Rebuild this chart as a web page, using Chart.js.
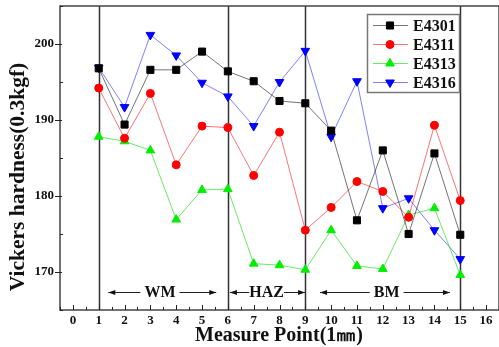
<!DOCTYPE html>
<html><head><meta charset="utf-8">
<script src="https://cdn.jsdelivr.net/npm/chart.js@4/dist/chart.umd.min.js"></script>
<style>html,body{margin:0;padding:0;background:#fff}canvas{display:block}</style>
</head><body>
<canvas id="c" width="499" height="347"></canvas>
<script>
const categories = [1,2,3,4,5,6,7,8,9,10,11,12,13,14,15];
const e4301 = [196.8,189.4,196.6,196.6,199.0,196.4,195.1,192.5,192.2,188.6,176.8,186.0,175.0,185.6,174.9];
const e4311 = [194.2,187.6,193.5,184.1,189.2,189.0,182.7,188.4,175.5,178.5,181.9,180.6,177.2,189.3,179.4];
const e4313 = [187.8,187.2,186.0,176.9,180.8,180.9,171.1,170.9,170.3,175.5,170.8,170.4,177.5,178.4,169.6];
const e4316 = [196.9,191.7,201.2,198.5,194.9,193.1,189.2,195.0,199.1,187.8,195.1,178.4,179.7,175.5,171.7];
const seriesNames = ['E4301','E4311','E4313','E4316'];
const xTickLabels = [0,1,2,3,4,5,6,7,8,9,10,11,12,13,14,15,16];
const yTickLabels = [170,180,190,200];
const zoneBoundaries = [1,6,9,15];
const zoneNames = ['WM','HAZ','BM'];
const zoneLabelX = [3.37,7.5,12.15];
const zoneArrowFrom = [1.37,6.08,9.57];
const zoneArrowTo = [5.55,8.99,14.6];
const zoneLabelY = 167.4;

const SERIF = '"Liberation Serif","DejaVu Serif",serif';
const mk = (vals) => categories.map((c,i)=>({x:c,y:vals[i]}));
const styles = [
  {line:'rgba(0,0,0,0.55)', pt:'#000000', shape:'rect', r:5, rot:0},
  {line:'rgba(255,0,0,0.55)', pt:'#ff0000', shape:'circle', r:4, rot:0},
  {line:'rgba(0,220,0,0.6)', pt:'#00ee00', shape:'triangle', r:5, rot:0},
  {line:'rgba(0,0,255,0.5)', pt:'#0000ff', shape:'triangle', r:5, rot:180},
];
const allVals = [e4301,e4311,e4313,e4316];
const datasets = allVals.map((v,i)=>({
  label: seriesNames[i], data: mk(v),
  borderColor: styles[i].line, borderWidth: 1,
  pointBackgroundColor: styles[i].pt, pointBorderColor: styles[i].pt,
  pointStyle: styles[i].shape, pointRadius: styles[i].r, pointRotation: styles[i].rot,
  pointBorderWidth: 1, tension: 0
}));

const deco = {
  id:'deco',
  beforeDatasetsDraw(chart){
    const {ctx, chartArea:a, scales:{x,y}} = chart;
    ctx.save();
    ctx.strokeStyle = '#333'; ctx.lineWidth = 1.5;
    zoneBoundaries.forEach(v=>{
      const px = Math.round(x.getPixelForValue(v))+0.5;
      ctx.beginPath(); ctx.moveTo(px,a.top); ctx.lineTo(px,a.bottom); ctx.stroke();
    });
    ctx.restore();
  },
  afterDatasetsDraw(chart){
    const {ctx, chartArea:a, scales:{x,y}} = chart;
    ctx.save();
    ctx.strokeStyle = '#444'; ctx.lineWidth = 1.5;
    ctx.strokeRect(a.left, a.top, a.right-a.left, a.bottom-a.top);
    ctx.strokeStyle = '#222'; ctx.lineWidth = 1;
    for (let v=-0.5; v<=16.5; v+=0.5){
      const px = Math.round(x.getPixelForValue(v))+0.5;
      const len = Number.isInteger(v) ? 5 : 3;
      ctx.beginPath(); ctx.moveTo(px,a.bottom); ctx.lineTo(px,a.bottom-len); ctx.stroke();
    }
    for (let v=165; v<=205; v+=5){
      const py = Math.round(y.getPixelForValue(v))+0.5;
      ctx.beginPath();
      if (v%10===0){ ctx.moveTo(a.left-5,py); ctx.lineTo(a.left+2,py); }
      else { ctx.moveTo(a.left,py); ctx.lineTo(a.left+3,py); }
      ctx.stroke();
    }
    ctx.font = 'bold 16px '+SERIF;
    ctx.fillStyle = '#111'; ctx.strokeStyle = '#222'; ctx.lineWidth = 1;
    ctx.textAlign = 'center'; ctx.textBaseline = 'middle';
    const ay = y.getPixelForValue(zoneLabelY);
    zoneNames.forEach((n,i)=>{
      const cx = x.getPixelForValue(zoneLabelX[i]);
      const w = ctx.measureText(n).width;
      const x0 = x.getPixelForValue(zoneArrowFrom[i]);
      const x1 = x.getPixelForValue(zoneArrowTo[i]);
      const gap = i===1 ? 0 : 4;
      ctx.fillText(n, cx, ay+1);
      const yy = Math.round(ay)+0.5;
      ctx.beginPath(); ctx.moveTo(x0,yy); ctx.lineTo(cx-w/2-gap,yy); ctx.stroke();
      ctx.beginPath(); ctx.moveTo(cx+w/2+gap,yy); ctx.lineTo(x1,yy); ctx.stroke();
      ctx.beginPath(); ctx.moveTo(x0,yy); ctx.lineTo(x0+7,yy-2.5); ctx.lineTo(x0+7,yy+2.5); ctx.closePath(); ctx.fill();
      ctx.beginPath(); ctx.moveTo(x1,yy); ctx.lineTo(x1-7,yy-2.5); ctx.lineTo(x1-7,yy+2.5); ctx.closePath(); ctx.fill();
    });
    const lx0 = 367, ly0 = 14, lw = 92, lh = 78;
    ctx.fillStyle = '#fff'; ctx.fillRect(lx0, ly0, lw, lh);
    ctx.strokeStyle = '#777'; ctx.lineWidth = 1.5;
    ctx.strokeRect(lx0+0.5, ly0+0.5, lw, lh);
    ctx.textAlign = 'left'; ctx.textBaseline = 'middle';
    chart.data.datasets.forEach((ds,i)=>{
      const yy = 25.5 + i*19;
      ctx.strokeStyle = ds.borderColor; ctx.lineWidth = 1;
      ctx.beginPath(); ctx.moveTo(373,yy); ctx.lineTo(408,yy); ctx.stroke();
      ctx.fillStyle = ds.pointBackgroundColor; ctx.strokeStyle = ds.pointBorderColor;
      Chart.helpers.drawPoint(ctx, {pointStyle: ds.pointStyle, radius: ds.pointRadius, rotation: ds.pointRotation, borderWidth:1}, 390, yy);
      ctx.fillStyle = '#111'; ctx.font = 'bold 16px '+SERIF;
      ctx.fillText(ds.label, 413, yy+1);
    });
    ctx.fillStyle = '#111';
    ctx.font = 'bold 20px '+SERIF;
    ctx.textAlign = 'center'; ctx.textBaseline = 'alphabetic';
    ctx.fillText('Measure Point(1㎜)', 279, 341);
    ctx.font = 'bold 21.5px '+SERIF;
    ctx.translate(24, 177); ctx.rotate(-Math.PI/2);
    ctx.fillText('Vickers hardness(0.3kgf)', 0, 0);
    ctx.restore();
  }
};

new Chart(document.getElementById('c'), {
  type: 'line',
  data: { datasets },
  options: {
    responsive: false, devicePixelRatio: 1, animation: false,
    layout: { autoPadding: false, padding: { top: 6, right: 0, left: 0, bottom: 0 } },
    plugins: { legend: { display: false }, tooltip: { enabled: false } },
    scales: {
      x: {
        type: 'linear', min: -0.5, max: 16.5,
        grid: { display: false, drawTicks: false, tickLength: 0 }, border: { display: false },
        afterBuildTicks: s => { s.ticks = xTickLabels.map(v=>({value:v})); },
        afterFit: s => { s.height = 37; s.paddingLeft = 0; s.paddingRight = 0; },
        ticks: { font: { family: SERIF, size: 13, weight: 'bold' }, color: '#111', padding: 3, maxRotation: 0, autoSkip: false }
      },
      y: {
        type: 'linear', min: 165, max: 205,
        grid: { display: false, drawTicks: false, tickLength: 0 }, border: { display: false },
        afterBuildTicks: s => { s.ticks = yTickLabels.map(v=>({value:v})); },
        afterFit: s => { s.width = 60; s.paddingTop = 0; s.paddingBottom = 0; },
        ticks: { font: { family: SERIF, size: 13, weight: 'bold' }, color: '#111', padding: 6 }
      }
    }
  },
  plugins: [deco]
});
</script>
</body></html>
